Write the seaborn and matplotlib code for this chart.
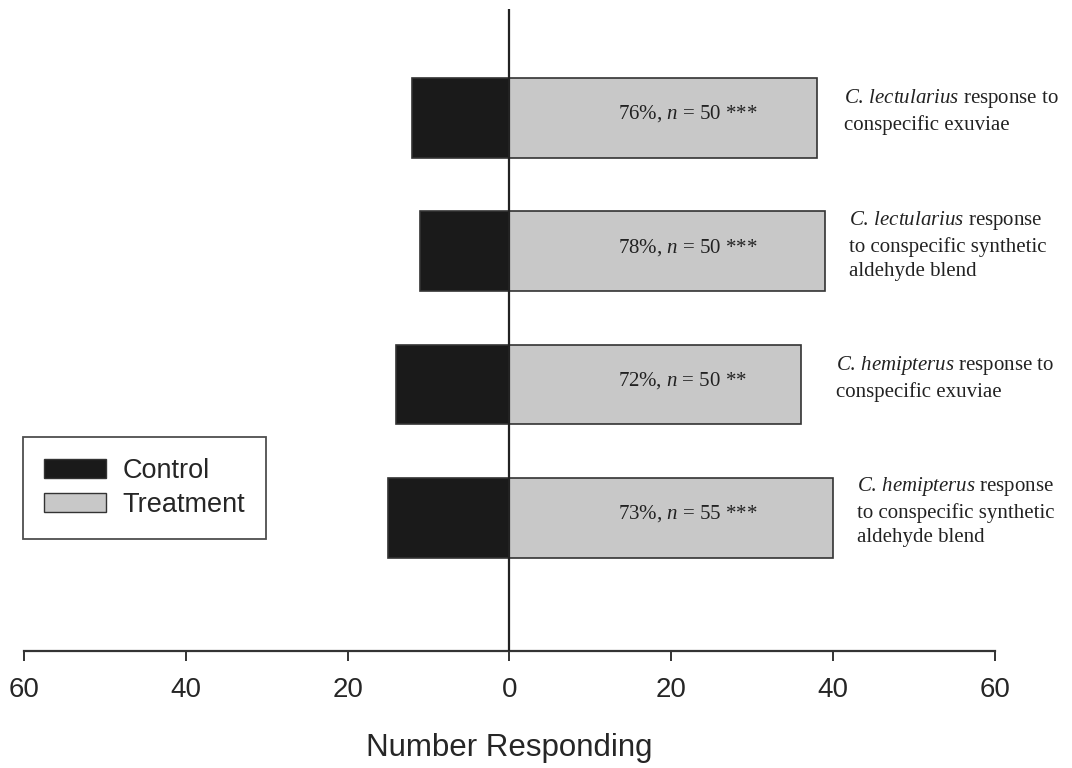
import numpy as np
import pandas as pd
import matplotlib
matplotlib.use("Agg")
import matplotlib.pyplot as plt
import seaborn as sns
from matplotlib.patches import Patch

# ---- data -------------------------------------------------------------
assays = ["lect_exuviae", "lect_aldehyde", "hemi_exuviae", "hemi_aldehyde"]
assay_labels = [
    "$\\mathit{C.\\,lectularius}$ response to\nconspecific exuviae",
    "$\\mathit{C.\\,lectularius}$ response\nto conspecific synthetic\naldehyde blend",
    "$\\mathit{C.\\,hemipterus}$ response to\nconspecific exuviae",
    "$\\mathit{C.\\,hemipterus}$ response\nto conspecific synthetic\naldehyde blend",
]
control = [12, 11, 14, 15]
treatment = [38, 39, 36, 40]
percent = [76, 78, 72, 73]
n_total = [50, 50, 50, 55]
signif = ["***", "***", "**", "***"]

tick_values = [-60, -40, -20, 0, 20, 40, 60]
tick_labels = ["60", "40", "20", "0", "20", "40", "60"]
x_title = "Number Responding"
legend_names = ["Control", "Treatment"]

# ---- style ------------------------------------------------------------
sns.set_theme(style="white")
plt.rcParams["font.family"] = ["Liberation Sans", "DejaVu Sans"]
plt.rcParams["mathtext.fontset"] = "custom"
plt.rcParams["mathtext.rm"] = "Liberation Serif"
plt.rcParams["mathtext.it"] = "Liberation Serif:italic"

CONTROL_COLOR = "#1a1a1a"
TREAT_COLOR = "#c8c8c8"
EDGE = "#333333"
SERIF = ["Liberation Serif", "DejaVu Serif"]

df = pd.DataFrame({
    "assay": assays,
    "control": -np.array(control, dtype=float),
    "treatment": np.array(treatment, dtype=float),
})

fig = plt.figure(figsize=(10.72, 7.68), dpi=100)
ax = fig.add_axes([24 / 1072, 1 - 651 / 768, (995 - 24) / 1072, (651 - 9) / 768])

sns.barplot(data=df, x="treatment", y="assay", orient="h", color=TREAT_COLOR,
            width=0.6, edgecolor=EDGE, linewidth=1.2, saturation=1, ax=ax)
sns.barplot(data=df, x="control", y="assay", orient="h", color=CONTROL_COLOR,
            width=0.6, edgecolor=EDGE, linewidth=1.2, saturation=1, ax=ax)

ax.axvline(0, color="#222222", lw=1.6, zorder=5)

# in-bar annotations: percentage responding, sample size, significance
for i, (p, n, s) in enumerate(zip(percent, n_total, signif)):
    ax.text(13.4, i - 0.03, f"{p}%, $n$ = {n} {s}", family=SERIF, fontsize=15,
            ha="left", va="center", color="#222222", zorder=6)

# assay descriptions to the right of the bars
label_x = [41.3, 41.9, 40.4, 43.0]
for i, (lab, lx) in enumerate(zip(assay_labels, label_x)):
    ax.text(lx, i - 0.05, lab, family=SERIF, fontsize=15, ha="left",
            va="center", linespacing=1.35, color="#222222", clip_on=False)

ax.set_xlim(-60, 60)
ax.set_ylim(4.0, -0.818)
ax.set_yticks([])
ax.set_ylabel("")
ax.set_xticks(tick_values)
ax.set_xticklabels(tick_labels, fontsize=20)
ax.tick_params(axis="x", direction="out", length=7.5, width=1.4,
               color="#333333", pad=11, bottom=True)
ax.set_xlabel(x_title, fontsize=22.5, labelpad=22)

for side in ["top", "right", "left"]:
    ax.spines[side].set_visible(False)
ax.spines["bottom"].set_color("#333333")
ax.spines["bottom"].set_linewidth(1.6)

handles = [Patch(facecolor=CONTROL_COLOR, edgecolor=EDGE, lw=1.0),
           Patch(facecolor=TREAT_COLOR, edgecolor=EDGE, lw=1.0)]
leg = fig.legend(handles, legend_names, loc="upper left",
                 bbox_to_anchor=(23 / 1072, 1 - 437 / 768), fontsize=19.5,
                 frameon=True, fancybox=False, shadow=False,
                 handlelength=2.3, handleheight=0.72, handletextpad=0.6,
                 labelspacing=0.28, borderpad=0.78, borderaxespad=0)
leg.get_frame().set_edgecolor("#222222")
leg.get_frame().set_linewidth(1.3)

fig.savefig("out.png", dpi=100, facecolor="white")
